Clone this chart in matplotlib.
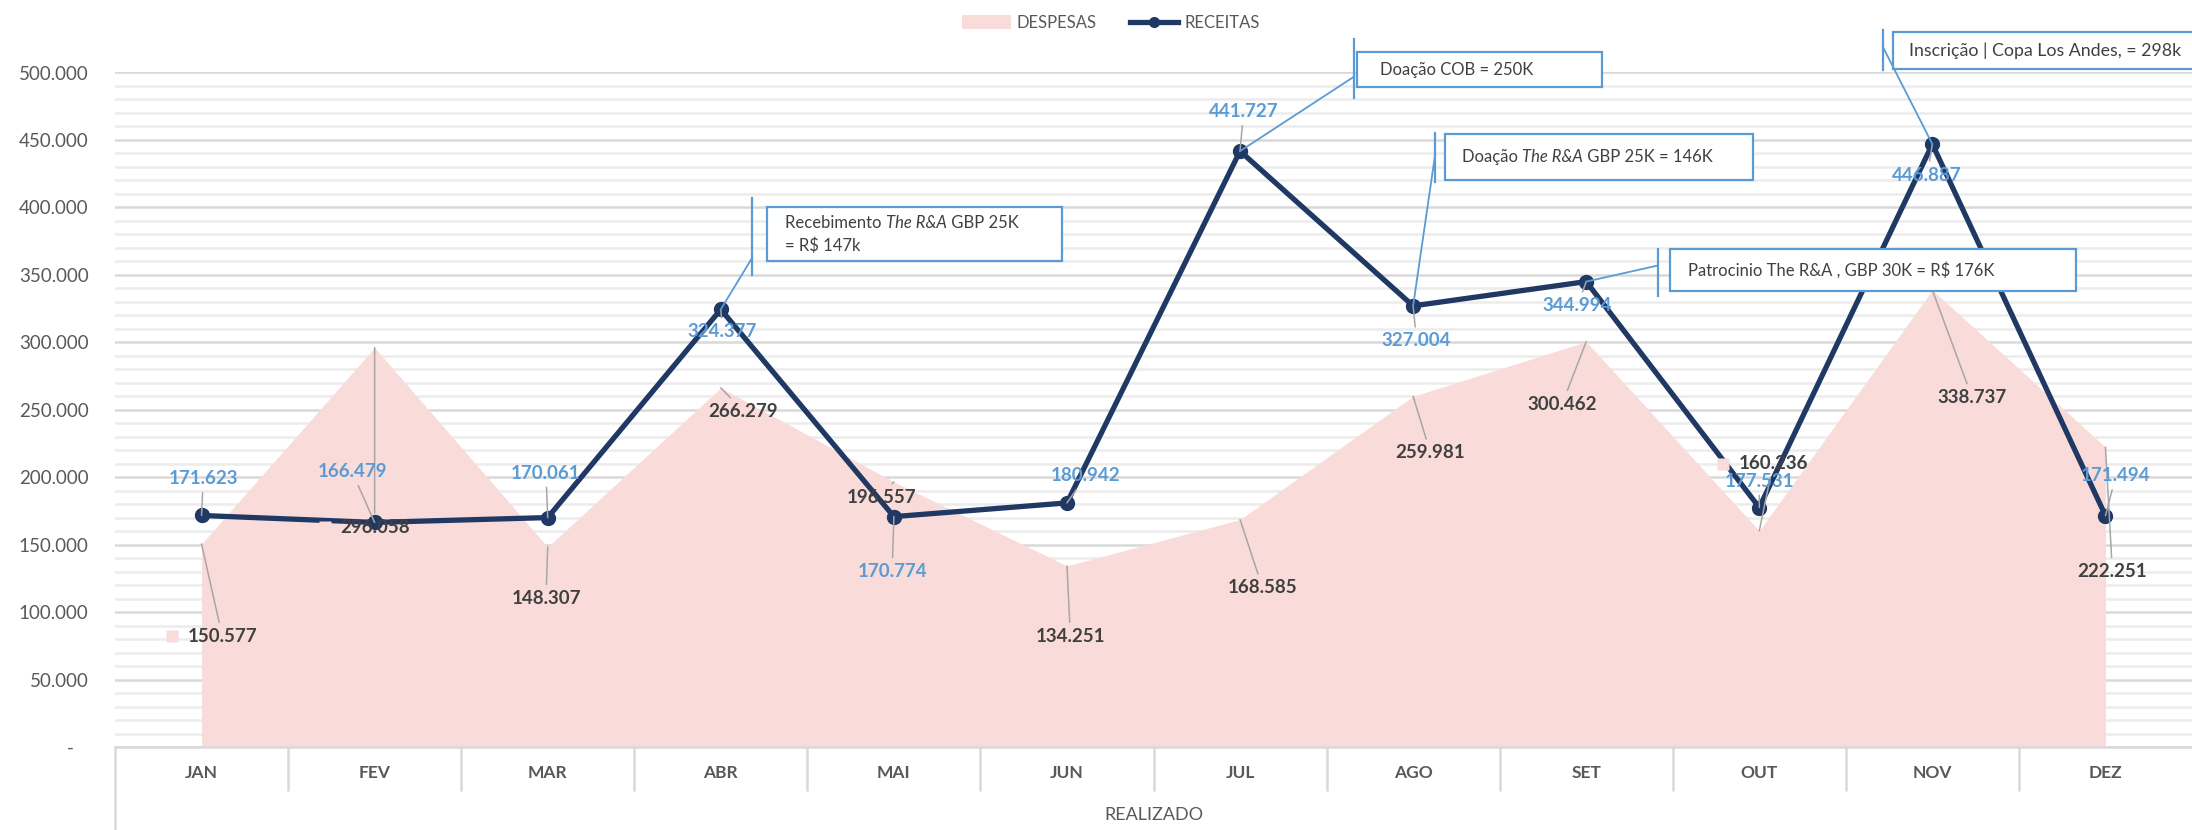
# -*- coding: utf-8 -*-
"""
Receitas x Despesas (realizado) - area + line chart with callouts
"""
# =============================     Import modules     =====================
import numpy as np
import matplotlib
matplotlib.use('Agg')
import matplotlib.pyplot as plt
from matplotlib.patches import Rectangle, Patch
from matplotlib.lines import Line2D
from matplotlib.ticker import MultipleLocator, FuncFormatter
from matplotlib.transforms import offset_copy
from matplotlib.offsetbox import TextArea, HPacker, VPacker, AnnotationBbox

# =============================        Data            =====================
meses = ['JAN', 'FEV', 'MAR', 'ABR', 'MAI', 'JUN',
         'JUL', 'AGO', 'SET', 'OUT', 'NOV', 'DEZ']
despesas = [150577, 296058, 148307, 266279, 196557, 134251,
            168585, 259981, 300462, 160236, 338737, 222251]
receitas = [171623, 166479, 170061, 324377, 170774, 180942,
            441727, 327004, 344994, 177531, 446887, 171494]
grupo = 'REALIZADO'
serie_names = ['DESPESAS', 'RECEITAS']

# callout texts: lines -> segments (text, italic)
callout_txt = [
    [[('Recebimento ', False), ('The R&A', True), (' GBP 25K', False)],
     [('= R$ 147k', False)]],
    [[('Doação COB = 250K', False)]],
    [[('Doação ', False), ('The R&A', True), (' GBP 25K = 146K', False)]],
    [[('Patrocinio The R&A , GBP 30K = R$ 176K', False)]],
    [[('Inscrição | Copa Los Andes, = 298k', False)]],
]
callout_month = [3, 6, 7, 8, 10]   # index of the RECEITAS point

# ================   Layout settings (label placement)  ===================
# data label positions (x in category units, y in thousands)
desp_lbl_x = [0.12, 1.00, 1.99, 3.13, 3.93, 5.02, 6.13, 7.10, 7.86, 9.08, 10.23, 11.04]
desp_lbl_y = [82, 163, 110, 249, 185, 82, 118, 218, 254, 210, 259, 130]
rec_lbl_x = [0.01, 0.87, 1.99, 3.01, 3.99, 5.11, 6.02, 7.02, 7.95, 9.00, 9.97, 11.06]
rec_lbl_y = [199, 204, 203, 308, 130, 201, 471, 301, 327, 197, 424, 201]
key_months = [0, 1, 9]    # labels that show a small legend key

# callout boxes: x0, x1, y_bottom, y_top (k), bar x, bar y0, bar y1, leader end y, text x
callout_box = [
    (3.269, 4.974, 359.9, 400.0, 3.182, 350.2, 406.7, 362.8, 3.373),
    (6.673, 8.090, 489.2, 515.2, 6.656, 481.0, 524.9, 496.7, 6.810),
    (7.182, 8.962, 420.1, 454.3, 7.124, 418.6, 455.0, 436.4, 7.280),
    (8.483, 10.830, 338.3, 368.8, 8.413, 334.6, 369.5, 356.9, 8.587),
    (9.772, 12.400, 502.6, 530.1, 9.714, 501.9, 531.6, 519.0, 9.864),
]
callout_size = [12, 12, 12, 12, 12.8]

c_area = '#f9dcd9'
c_line = '#1f3864'
c_blue = '#5b9bd5'
c_text = '#404040'
c_axis = '#595959'
c_grid = '#d9d9d9'

plt.rcParams['font.family'] = ['Lato', 'DejaVu Sans']


def fmt(v):
    return f'{int(v):,}'.replace(',', '.')


def rich_text(ax, x, y, lines, size=12, color=c_text):
    """Left aligned multi-line text with italic segments."""
    rows = []
    for line in lines:
        parts = [TextArea(t, textprops=dict(fontsize=size, color=color,
                                            style='italic' if it else 'normal',
                                            parse_math=False))
                 for t, it in line]
        rows.append(HPacker(children=parts, align='baseline', pad=0, sep=0))
    box = VPacker(children=rows, align='left', pad=0, sep=5)
    ab = AnnotationBbox(box, (x, y), xycoords='data', box_alignment=(0, 0.5),
                        frameon=False, pad=0, zorder=8, annotation_clip=False)
    ax.add_artist(ab)


#=============================    Main program   ==============================
if __name__ == '__main__':
    W, H = 2192, 830
    fig = plt.figure(figsize=(W / 100, H / 100), dpi=100)
    ax = fig.add_axes([115 / W, 83 / H, 2077 / W, 674.5 / H])

    x = np.arange(len(meses))

    # -- Area (despesas) and line (receitas)
    ax.fill_between(x, 0, despesas, color=c_area, lw=0, zorder=1)
    ax.plot(x, receitas, color=c_line, lw=3.8, marker='o', ms=10,
            solid_joinstyle='round', zorder=4)

    # -- Axes
    ax.set_xlim(-0.5, len(meses) - 0.5)
    ax.set_ylim(0, 500000)
    ax.yaxis.set_major_locator(MultipleLocator(50000))
    ax.yaxis.set_minor_locator(MultipleLocator(10000))
    ax.yaxis.set_major_formatter(FuncFormatter(
        lambda v, p: '-   ' if v == 0 else fmt(v)))
    ax.set_axisbelow(True)
    ax.grid(which='major', axis='y', color=c_grid, lw=1.8)
    ax.grid(which='minor', axis='y', color='#ececec', lw=1.8)
    ax.tick_params(axis='y', which='both', length=0, pad=19,
                   labelsize=13.5, labelcolor=c_axis)
    ax.set_xticks([])
    for s in ['top', 'right', 'left']:
        ax.spines[s].set_visible(False)
    ax.spines['bottom'].set_color(c_grid)
    ax.spines['bottom'].set_linewidth(1.8)

    # -- Multi-level category axis
    xt = ax.get_xaxis_transform()
    ax.vlines(np.arange(0.5, len(meses) - 1, 1), 0, -0.065, transform=xt,
              colors=c_grid, lw=1.8, clip_on=False)
    ax.vlines(-0.5, 0, -0.125, transform=xt, colors=c_grid, lw=1.8,
              clip_on=False)
    for i, m in enumerate(meses):
        ax.text(i, -0.0385, m, transform=xt, ha='center', va='center',
                fontsize=12.5, fontweight='bold', color=c_axis)
    ax.text(0.5 * (len(meses) - 1), -0.1005, grupo, transform=xt,
            ha='center', va='center', fontsize=13, color=c_axis)

    # -- Data labels with leader lines
    lead = dict(arrowstyle='-', color='#a6a6a6', lw=1.1, shrinkA=2, shrinkB=0)
    for i in range(len(meses)):
        ax.annotate(fmt(despesas[i]), xy=(i, despesas[i]),
                    xytext=(desp_lbl_x[i], desp_lbl_y[i] * 1000),
                    ha='center', va='center', fontsize=13.5,
                    fontweight='bold', color=c_text, arrowprops=lead,
                    zorder=6)
        ax.annotate(fmt(receitas[i]), xy=(i, receitas[i]),
                    xytext=(rec_lbl_x[i], rec_lbl_y[i] * 1000),
                    ha='center', va='center', fontsize=13.5,
                    fontweight='bold', color=c_blue, arrowprops=lead,
                    zorder=6)
    key_tr = offset_copy(ax.transData, fig=fig, x=-50, y=0, units='dots')
    for i in key_months:
        ax.plot(desp_lbl_x[i], desp_lbl_y[i] * 1000, marker='s', ms=9,
                color=c_area, mec='none', transform=key_tr, zorder=5,
                clip_on=False)

    # -- Callouts
    for j, lines in enumerate(callout_txt):
        x0, x1, yb, yt, bx, by0, by1, ly, tx = callout_box[j]
        m = callout_month[j]
        ax.add_patch(Rectangle((x0, yb * 1000), x1 - x0, (yt - yb) * 1000,
                               facecolor='white', edgecolor=c_blue, lw=1.6,
                               zorder=7, clip_on=False))
        ax.plot([bx, bx], [by0 * 1000, by1 * 1000], color=c_blue, lw=1.6,
                zorder=7, clip_on=False)
        ax.plot([m, bx], [receitas[m], ly * 1000], color=c_blue, lw=1.3,
                zorder=7, clip_on=False)
        rich_text(ax, tx, 0.5 * (yb + yt) * 1000, lines, size=callout_size[j])

    # -- Legend
    handles = [Patch(facecolor=c_area, edgecolor='none'),
               Line2D([], [], color=c_line, lw=3.8, marker='o', ms=7)]
    fig.legend(handles, serie_names, loc='center', ncol=2, frameon=False,
               bbox_to_anchor=(1111 / W, 1 - 23 / H), fontsize=12,
               handlelength=2.9, handleheight=0.9, columnspacing=2.0,
               handletextpad=0.35, labelcolor=c_axis)

    fig.savefig('out.png', dpi=100)
    plt.close(fig)
